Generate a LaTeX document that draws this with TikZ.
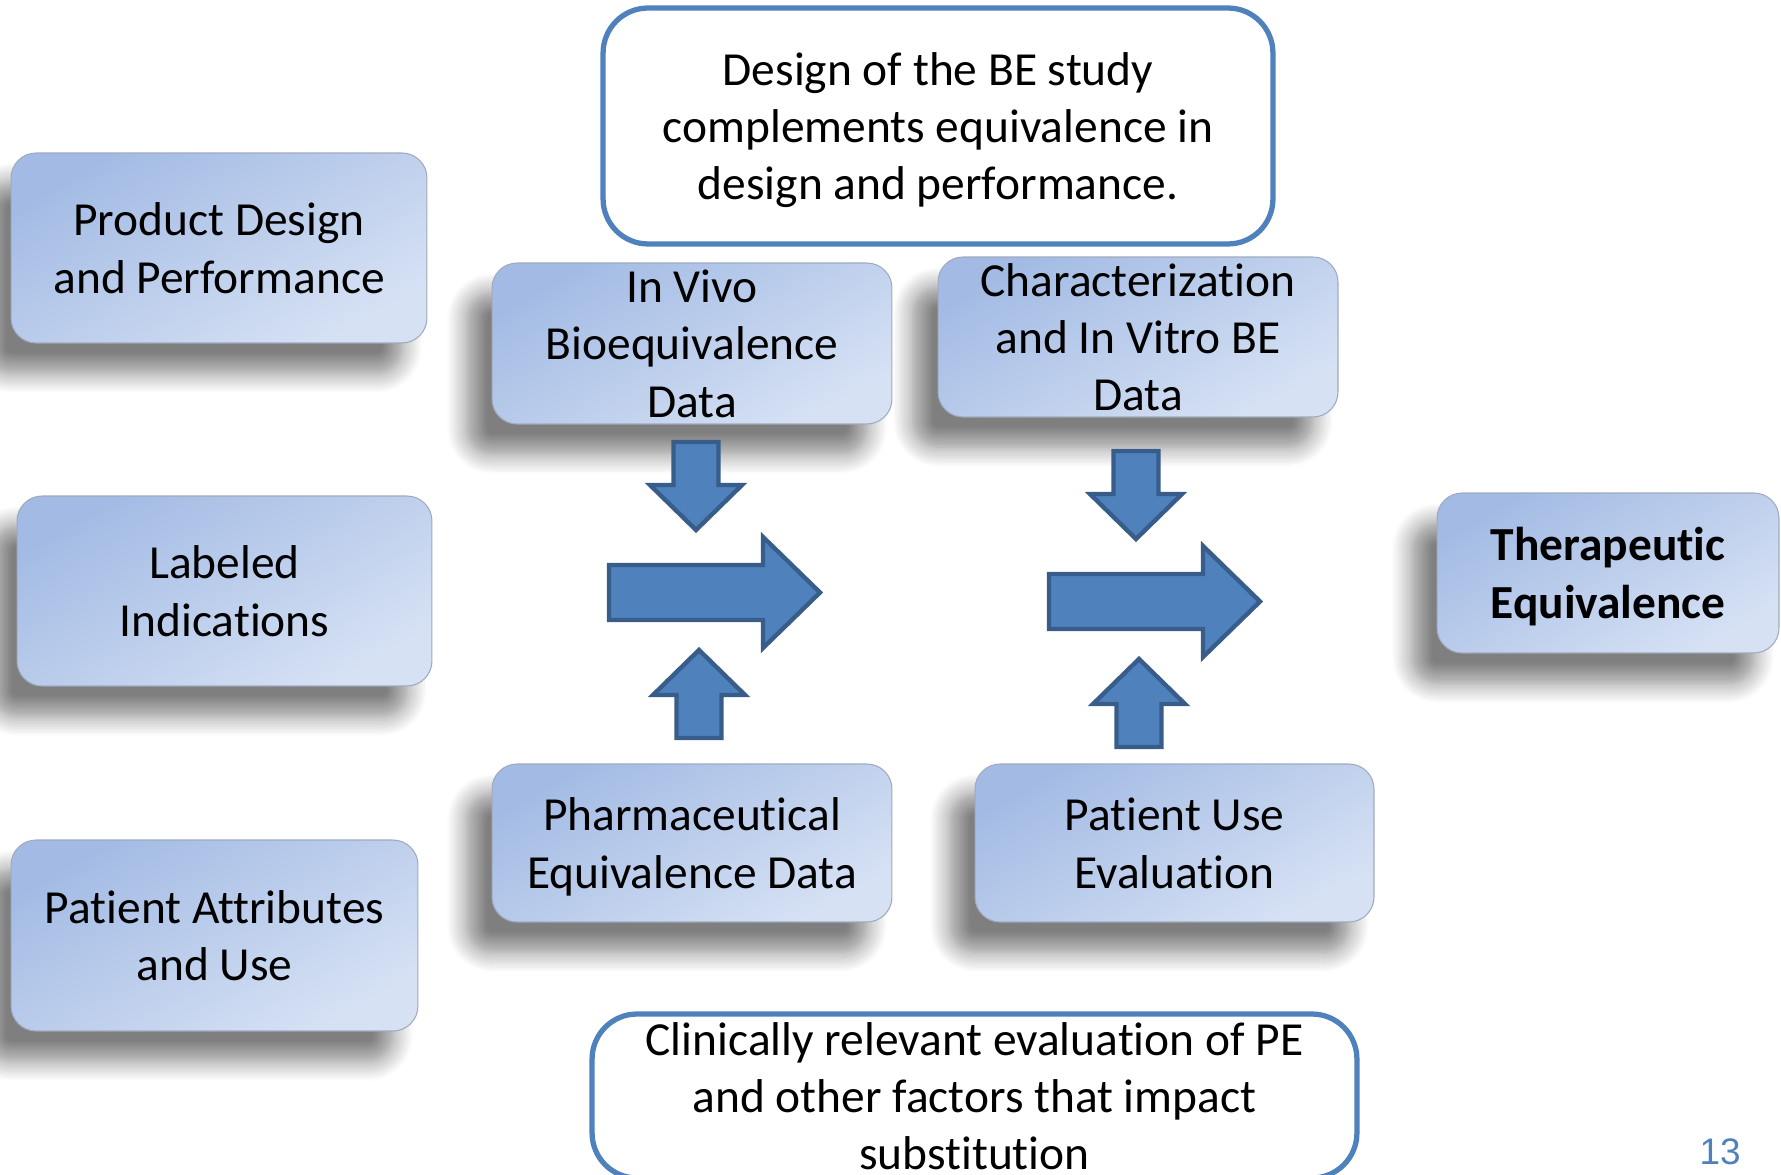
\documentclass[tikz,border=0pt]{standalone}
\usepackage{fontspec}
\setmainfont{Carlito}[Ligatures=NoCommon]
\newfontfamily\numfont{Liberation Sans}
\usepackage{tikz}
\usetikzlibrary{shadows.blur}

\definecolor{boxtop}{RGB}{163,187,228}
\definecolor{boxbot}{RGB}{214,225,244}
\definecolor{boxrim}{RGB}{160,170,190}
\definecolor{arrowfill}{RGB}{79,129,189}
\definecolor{arrowline}{RGB}{56,93,138}
\definecolor{noteline}{RGB}{79,129,189}

\begin{document}
\begin{tikzpicture}[x=0.02cm,y=-0.02cm,
                    text node/.style={inner xsep=0pt,inner ysep=-0.3cm,align=center,text depth=0pt,
                      font=\fontsize{27}{32.7}\selectfont},
                    data node/.style={text node,rectangle,rounded corners=0.5cm,draw=boxrim,line width=0.6pt,
                      top color=boxtop,bottom color=boxbot,shading angle=30,
                      blur shadow={shadow xshift=-0.5cm,shadow yshift=-0.6cm,
                        shadow blur radius=0.4cm,shadow blur steps=10,shadow opacity=50}},
                    note node/.style={text node,rectangle,rounded corners=0.9cm,draw=noteline,line width=3pt,
                      fill=white},
                    block/.style={fill=arrowfill,draw=arrowline,line width=2.5pt,line join=miter}]
  \useasboundingbox (0,0) rectangle (1781,1175);

  %left column%
  \node[data node,minimum width=8.32cm,minimum height=3.8cm] (1) at (219,248)
    {Product Design\\and Performance};
  \node[data node,minimum width=8.3cm,minimum height=3.8cm] (2) at (224.5,591)
    {Labeled\\Indications};
  \node[data node,minimum width=8.14cm,minimum height=3.82cm] (3) at (214.5,935.5)
    {Patient Attributes\\and Use};

  %middle boxes%
  \node[data node,minimum width=8cm,minimum height=3.22cm] (4) at (692,343.5)
    {In Vivo\\Bioequivalence\\Data};
  \node[data node,minimum width=8cm,minimum height=3.2cm] (5) at (1138,337)
    {Characterization\\and In Vitro BE\\Data};
  \node[data node,minimum width=8cm,minimum height=3.16cm] (6) at (692,843)
    {Pharmaceutical\\Equivalence Data};
  \node[data node,minimum width=7.98cm,minimum height=3.16cm] (7) at (1174.5,843)
    {Patient Use\\Evaluation};
  \node[data node,minimum width=6.84cm,minimum height=3.2cm] (8) at (1608,573)
    {\bfseries Therapeutic\\\bfseries Equivalence};

  %notes%
  \node[note node,minimum width=13.4cm,minimum height=4.72cm] (9) at (938,126)
    {Design of the BE study\\complements equivalence in\\design and performance.};
  \node[note node,minimum width=15.3cm,minimum height=3.28cm] (10) at (974.5,1096)
    {Clinically relevant evaluation of PE\\and other factors that impact\\substitution};

  \node[font=\numfont\fontsize{21}{24}\selectfont,text=noteline] (11) at (1720,1152) {13};

  %block arrows%
  \begin{scope}
    \draw[block] (673.5,442) -- (718.5,442) -- (718.5,485) -- (742,485) -- (696,530)
      -- (650,485) -- (673.5,485) -- cycle;
    \draw[block] (609,565) -- (763,565) -- (763,537) -- (820,592.5) -- (763,648)
      -- (763,620) -- (609,620) -- cycle;
    \draw[block] (676.5,738) -- (721.5,738) -- (721.5,695) -- (745,695) -- (699,650)
      -- (653,695) -- (676.5,695) -- cycle;
  \end{scope}
  \begin{scope}[shift={(440,9)}]
    \draw[block] (673.5,442) -- (718.5,442) -- (718.5,485) -- (742,485) -- (696,530)
      -- (650,485) -- (673.5,485) -- cycle;
    \draw[block] (609,565) -- (763,565) -- (763,537) -- (820,592.5) -- (763,648)
      -- (763,620) -- (609,620) -- cycle;
    \draw[block] (676.5,738) -- (721.5,738) -- (721.5,695) -- (745,695) -- (699,650)
      -- (653,695) -- (676.5,695) -- cycle;
  \end{scope}
\end{tikzpicture}
\end{document}
